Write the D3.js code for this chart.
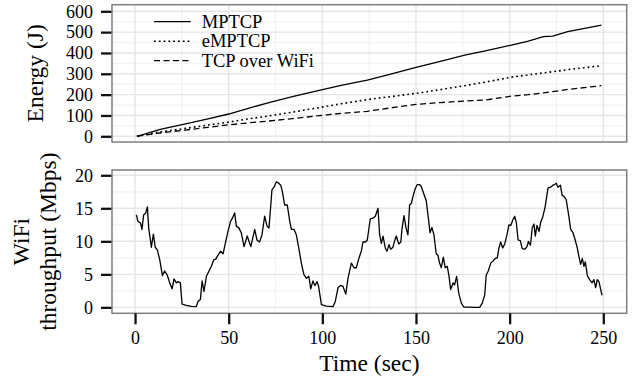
<!DOCTYPE html>
<html>
<head>
<meta charset="utf-8">
<script src="https://cdn.jsdelivr.net/npm/d3@7"></script>
<style>
  body { margin: 0; background: #fff; }
  svg text { font-family: "Liberation Serif", "Times New Roman", serif; fill: #000; }
</style>
</head>
<body>
<div id="chart"></div>
<script>
// ── Data ──
const energyTime = [1, 14, 27, 39, 50, 60, 71, 84, 96, 110, 124, 137, 150, 163, 176, 187, 201, 210, 218, 223, 231, 240, 249];
const mptcp  = [0, 34, 60, 84, 107, 133, 161, 190, 216, 244, 270, 300, 331, 360, 390, 410, 438, 457, 478, 481, 502, 518, 534];
const emptcp = [0, 22, 38, 54, 68, 83, 97, 116, 134, 156, 176, 191, 206, 224, 243, 260, 284, 295, 304, 310, 320, 329, 339];
const tcpWifi = [0, 17, 30, 43, 55, 64, 73, 85, 97, 110, 120, 137, 153, 162, 169, 174, 193, 200, 208, 214, 225, 234, 243];
const seriesNames = ['MPTCP', 'eMPTCP', 'TCP over WiFi'];

const wifiTime = [0.7, 1.6, 2.9, 3.7, 4.6, 5.7, 6.6, 7.3, 8.2, 8.7, 9.8, 10.8, 11.9, 13.2, 14.6, 15.8, 17.2, 18.5, 19.8, 20.8,
  22.1, 23.0, 24.2, 25.1, 27.4, 30.1, 32.7, 33.6, 34.9, 35.8, 36.8, 38.1, 39.5, 40.7, 42.0, 43.1, 44.3, 45.7, 47.0, 48.2,
  49.6, 51.1, 52.0, 53.2, 54.1, 55.5, 56.7, 58.2, 59.9, 61.8, 63.9, 65.1, 66.5, 67.8, 69.2, 70.5, 71.5, 72.4, 73.1, 74.2,
  75.4, 76.3, 77.8, 78.6, 79.9, 81.3, 82.6, 83.5, 84.9, 86.1, 87.4, 88.8, 90.1, 91.5, 92.8, 93.8, 95.0, 96.0, 97.2, 98.0,
  99.5, 102.1, 105.7, 106.9, 108.4, 109.7, 111.0, 112.5, 113.7, 115.5, 116.9, 118.1, 119.6, 120.8, 121.7, 123.0, 124.0, 125.6, 127.0, 128.3,
  129.7, 130.6, 131.5, 132.4, 133.6, 134.5, 135.6, 136.5, 137.7, 138.6, 139.5, 140.8, 141.9, 142.5, 143.6, 144.7, 145.7, 146.6, 147.6, 148.4,
  149.6, 150.7, 151.9, 152.8, 154.3, 155.5, 156.4, 157.5, 158.5, 159.6, 160.8, 161.7, 162.6, 163.5, 164.6, 165.6, 166.7, 167.6, 168.5, 169.8,
  170.6, 171.7, 172.8, 174.2, 175.5, 177.8, 181.3, 184.0, 185.4, 186.7, 187.5, 188.6, 189.9, 191.1, 192.3, 193.4, 194.3, 195.2, 196.3, 197.4,
  198.6, 199.6, 200.6, 201.8, 202.7, 203.6, 204.5, 205.7, 206.7, 208.1, 209.3, 210.0, 211.1, 212.1, 213.0, 213.7, 214.6, 215.7, 216.6, 217.8,
  219.0, 220.5, 221.9, 223.1, 224.0, 224.9, 225.8, 227.1, 228.0, 229.0, 230.2, 231.5, 232.6, 233.8, 235.0, 236.1, 237.0, 237.9, 238.8, 239.7,
  240.4, 241.5, 242.7, 244.0, 245.0, 245.9, 246.8, 247.7, 248.4, 249.3];
const wifiMbps = [14.0, 13.0, 12.8, 11.8, 14.0, 14.3, 15.2, 12.0, 10.2, 9.1, 11.1, 9.1, 8.7, 7.2, 4.8, 5.5, 4.9, 3.7, 2.8, 4.3,
  3.7, 3.9, 3.7, 0.5, 0.3, 0.15, 0.1, 0.9, 1.2, 4.0, 2.4, 4.7, 5.5, 6.2, 7.2, 7.3, 7.9, 8.5, 8.1, 9.7,
  11.5, 13.1, 13.5, 14.3, 12.3, 12.0, 11.3, 9.2, 10.8, 9.2, 11.8, 10.2, 9.9, 11.0, 13.8, 12.3, 12.0, 15.2, 17.8, 18.2,
  19.0, 18.9, 18.5, 17.6, 15.5, 15.5, 13.0, 11.8, 11.8, 11.0, 9.0, 6.7, 5.0, 4.4, 4.7, 2.8, 4.0, 3.3, 3.9, 3.2,
  0.4, 0.2, 0.1, 0.9, 3.0, 3.3, 3.2, 2.0, 4.4, 6.7, 6.0, 6.0, 7.5, 8.5, 9.9, 9.9, 10.2, 13.4, 13.5, 13.8,
  15.0, 11.0, 9.7, 10.8, 9.0, 8.5, 9.5, 8.8, 9.1, 10.1, 10.8, 9.6, 9.9, 11.8, 13.9, 12.0, 11.0, 15.5, 15.8, 16.8,
  18.0, 18.6, 18.6, 18.3, 17.1, 16.1, 14.0, 11.3, 12.1, 11.0, 8.1, 7.9, 6.7, 6.0, 7.6, 6.0, 6.2, 4.8, 2.7, 3.7,
  3.4, 4.7, 2.2, 0.65, 0.05, 0.05, 0, 0, 0.65, 1.9, 4.9, 5.5, 6.7, 7.0, 7.4, 7.5, 9.0, 9.9, 9.0, 9.6,
  11.0, 12.5, 12.4, 13.3, 13.8, 12.8, 10.2, 10.1, 8.9, 8.8, 9.2, 10.0, 9.4, 12.1, 12.6, 10.8, 12.4, 11.5, 12.9, 13.8,
  15.3, 18.1, 18.2, 18.5, 18.6, 18.8, 18.2, 18.5, 17.0, 16.8, 16.3, 14.0, 11.8, 11.3, 10.2, 9.0, 7.7, 6.5, 7.4, 6.2,
  6.9, 4.8, 4.2, 3.7, 4.2, 3.0, 4.2, 3.9, 3.0, 1.8];

const timeTicks = [0, 50, 100, 150, 200, 250];
const energyTicks = [0, 100, 200, 300, 400, 500, 600];
const wifiTicks = [0, 5, 10, 15, 20];

// ── Layout ──
const W = 641, H = 381;
const FONT = '"Liberation Serif", "Times New Roman", serif';
const panelX = [112, 626.7];
const topY = [142, 4.7];
const botY = [313.3, 170];

const svg = d3.select('#chart').append('svg')
  .attr('width', W).attr('height', H);
svg.append('rect').attr('width', W).attr('height', H).attr('fill', '#fff');

const x = d3.scaleLinear().domain([-12.3, 262.5]).range(panelX);
const yE = d3.scaleLinear().domain([-27.4, 631.7]).range(topY);
const yW = d3.scaleLinear().domain([-0.9, 20.8]).range(botY);

function midpoints(t) {
  return t.slice(1).map((v, i) => (v + t[i]) / 2);
}

function styleAxis(ax) {
  ax.attr('font-family', FONT);
  ax.select('.domain').remove();
  ax.selectAll('line').attr('stroke', '#111').attr('stroke-width', 2.3);
  ax.selectAll('text').style('font-family', FONT).style('font-size', '18px');
}

function drawPanel(y, yRange, yTicks) {
  const g = svg.append('g');
  // minor grid
  midpoints(timeTicks).forEach(v => {
    g.append('line').attr('x1', x(v)).attr('x2', x(v)).attr('y1', yRange[0]).attr('y2', yRange[1])
      .attr('stroke', '#f2f2f2').attr('stroke-width', 1.2);
  });
  midpoints(yTicks).forEach(v => {
    g.append('line').attr('x1', panelX[0]).attr('x2', panelX[1]).attr('y1', y(v)).attr('y2', y(v))
      .attr('stroke', '#f2f2f2').attr('stroke-width', 1.2);
  });
  // major grid
  timeTicks.forEach(v => {
    g.append('line').attr('x1', x(v)).attr('x2', x(v)).attr('y1', yRange[0]).attr('y2', yRange[1])
      .attr('stroke', '#e5e5e5').attr('stroke-width', 1.4);
  });
  yTicks.forEach(v => {
    g.append('line').attr('x1', panelX[0]).attr('x2', panelX[1]).attr('y1', y(v)).attr('y2', y(v))
      .attr('stroke', '#e5e5e5').attr('stroke-width', 1.4);
  });

  // y axis
  const ax = svg.append('g').attr('transform', `translate(${panelX[0]},0)`)
    .call(d3.axisLeft(y).tickValues(yTicks).tickSize(11).tickPadding(8));
  styleAxis(ax);
  return g;
}

function drawBorder(yRange) {
  svg.append('rect')
    .attr('x', panelX[0]).attr('y', yRange[1])
    .attr('width', panelX[1] - panelX[0]).attr('height', yRange[0] - yRange[1])
    .attr('fill', 'none').attr('stroke', '#7f7f7f').attr('stroke-width', 1.5);
}

// ── Energy panel ──
drawPanel(yE, topY, energyTicks);

const dashes = ['none', '1.8 3', '6 3.5'];
const widths = [1.3, 1.6, 1.3];
[mptcp, emptcp, tcpWifi].forEach((vals, k) => {
  const line = d3.line()
    .x((d, i) => x(energyTime[i]))
    .y(d => yE(d));
  svg.append('path')
    .datum(vals)
    .attr('fill', 'none')
    .attr('stroke', '#000')
    .attr('stroke-width', widths[k])
    .attr('stroke-dasharray', dashes[k])
    .attr('d', line);
});
drawBorder(topY);

// Legend
const legend = svg.append('g').attr('transform', 'translate(154, 21.7)');
seriesNames.forEach((name, i) => {
  legend.append('line')
    .attr('x1', 0).attr('x2', 36.7)
    .attr('y1', i * 19.5).attr('y2', i * 19.5)
    .attr('stroke', '#000').attr('stroke-width', widths[i])
    .attr('stroke-dasharray', dashes[i]);
  legend.append('text')
    .attr('x', 47.7).attr('y', i * 19.5 + 6)
    .style('font-size', '18.5px')
    .text(name);
});

// ── WiFi panel ──
drawPanel(yW, botY, wifiTicks);

svg.append('path')
  .datum(wifiMbps)
  .attr('fill', 'none')
  .attr('stroke', '#000')
  .attr('stroke-width', 1.3)
  .attr('stroke-linejoin', 'round')
  .attr('d', d3.line().x((d, i) => x(wifiTime[i])).y(d => yW(d)));
drawBorder(botY);

// x axis
const xa = svg.append('g').attr('transform', `translate(0,${botY[0]})`)
  .call(d3.axisBottom(x).tickValues(timeTicks).tickSize(11).tickPadding(7));
styleAxis(xa);

// Axis titles
const midX = (panelX[0] + panelX[1]) / 2;
svg.append('text')
  .attr('x', midX).attr('y', 371)
  .attr('text-anchor', 'middle')
  .style('font-size', '23.5px')
  .text('Time (sec)');

svg.append('text')
  .attr('transform', `translate(43,${(topY[0] + topY[1]) / 2}) rotate(-90)`)
  .attr('text-anchor', 'middle')
  .style('font-size', '23.5px')
  .text('Energy (J)');

const wt = svg.append('text')
  .attr('transform', `translate(29,${(botY[0] + botY[1]) / 2}) rotate(-90)`)
  .attr('text-anchor', 'middle')
  .style('font-size', '23.5px');
wt.append('tspan').attr('x', 0).attr('dy', 0).text('WiFi');
wt.append('tspan').attr('x', 0).attr('dy', 27).text('throughput (Mbps)');
</script>
</body>
</html>
